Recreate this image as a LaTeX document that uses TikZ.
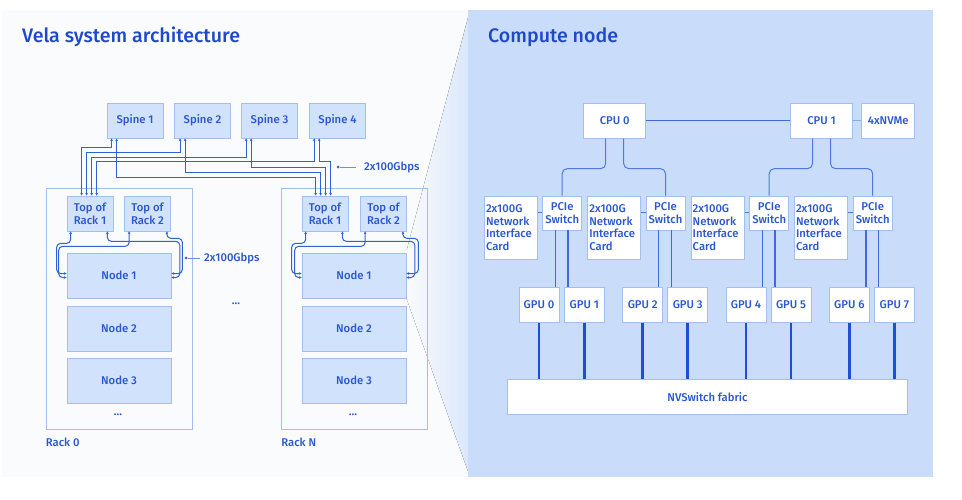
\documentclass[tikz,border=0pt]{standalone}
\usepackage{fontspec}
\setmainfont{Fira Sans}[UprightFont = * Medium, BoldFont = * SemiBold]
\usetikzlibrary{arrows.meta,positioning}

\definecolor{txtblue}{HTML}{2A56CF}
\definecolor{ttlblue}{HTML}{1F49C9}
\definecolor{boxfill}{HTML}{D1E2FC}
\definecolor{boxline}{HTML}{A3BEF0}
\definecolor{linkblue}{HTML}{2F61D7}
\definecolor{panelblue}{HTML}{C9DDFB}
\definecolor{panelgrey}{HTML}{FAFBFC}
\definecolor{fabblue}{HTML}{1E4ED6}

\begin{document}
\begin{tikzpicture}[
    x = 1pt, y = -1pt, % pixel grid, y downwards
    > = {Stealth[length=2.8pt,width=2.8pt]}, % arrow head style
    font = \fontsize{11.3}{12.7}\selectfont,
    text = txtblue
    ]

    \tikzset{
    lbox/.style = {draw = boxline, fill = boxfill, line width = 0.7pt, inner sep = 0pt, align = center},
    wbox/.style = {draw = boxline, fill = white, line width = 0.7pt, inner sep = 0pt, align = center},
    spinebox/.style = {lbox, minimum width = 56pt, minimum height = 35pt},
    torbox/.style = {lbox, minimum width = 46pt, minimum height = 35pt},
    nodebox/.style = {lbox, minimum width = 104pt, minimum height = 45pt},
    rackbox/.style = {draw = boxline, line width = 0.7pt, minimum width = 146pt, minimum height = 241pt},
    nicbox/.style = {wbox, minimum width = 53pt, minimum height = 63pt, align = left, text width = 50pt},
    swbox/.style = {wbox, minimum width = 39pt, minimum height = 34pt},
    gpubox/.style = {wbox, minimum width = 40pt, minimum height = 35pt},
    cpubox/.style = {wbox, minimum width = 62pt, minimum height = 35pt},
    link/.style = {<->, draw = linkblue, line width = 1.25pt},
    torlink/.style = {<->, draw = linkblue, line width = 1pt, rounded corners = 4pt},
    pcie/.style = {draw = linkblue!85, line width = 1pt, rounded corners = 5pt},
    nvlink/.style = {draw = fabblue, line width = 2.6pt},
    dot/.style = {circle, fill = linkblue, inner sep = 0pt, minimum size = 3pt},
    ttl/.style = {text = ttlblue, font = \fontsize{19.6}{22}\selectfont, anchor = west, inner sep = 0pt}
    }

    \useasboundingbox (0,0) rectangle (962,500);
    % panels
    \fill[panelgrey] (2,10) rectangle (468,477);
    \fill[left color = panelgrey, right color = panelblue!70] (406,253) -- (470,10) -- (470,477) -- (406,297) -- cycle;
    \fill[panelblue] (468,10) rectangle (933,477);

    \node[ttl] (t1) at (22,37) {Vela system architecture};
    \node[ttl] (t2) at (488,37) {Compute node};

    % spines
    \node[spinebox] (sp1) at (135,120.5) {Spine 1};
    \node[spinebox] (sp2) at (202.5,120.5) {Spine 2};
    \node[spinebox] (sp3) at (269.5,120.5) {Spine 3};
    \node[spinebox] (sp4) at (337.5,120.5) {Spine 4};

    % racks
    \node[rackbox] (rk0) at (119,308.5) {};
    \node[rackbox] (rkN) at (354.5,308.5) {};
    \node[anchor = north west, inner sep = 0pt] (rk0l) at ([yshift=-8pt]rk0.south west) {Rack 0};
    \node[anchor = north west, inner sep = 0pt] (rkNl) at ([yshift=-8pt]rkN.south west) {Rack N};

    \node[torbox] (t0a) at (90,213.5) {Top of\\Rack 1};
    \node[torbox] (t0b) at (147.5,213.5) {Top of\\Rack 2};
    \node[torbox] (tNa) at (325,213.5) {Top of\\Rack 1};
    \node[torbox] (tNb) at (383.5,213.5) {Top of\\Rack 2};

    \node[nodebox] (n01) at (119,275.5) {Node 1};
    \node[nodebox] (n02) at (119,328.5) {Node 2};
    \node[nodebox] (n03) at (119,380.5) {Node 3};
    \node[nodebox] (nN1) at (354,275.5) {Node 1};
    \node[nodebox] (nN2) at (354,328.5) {Node 2};
    \node[nodebox] (nN3) at (354,380.5) {Node 3};
    \node (m0) at (118,415) {...};
    \node (mN) at (353,415) {...};
    \node (mm) at (236,304) {...};

    % spine to top of rack
    \draw[link] ([xshift=5pt]sp1.south west) -- ++(0,9) -| ([xshift=15pt]t0a.north west);
    \draw[link] ([xshift=6pt]sp2.south west) -- ++(0,14) -| ([xshift=20pt]t0a.north west);
    \draw[link] ([xshift=5pt]sp3.south west) -- ++(0,19) -| ([xshift=25pt]t0a.north west);
    \draw[link] ([xshift=5pt]sp4.south west) -- ++(0,23.5) -| ([xshift=30pt]t0a.north west);
    \draw[link] ([xshift=10pt]sp1.south west) -- ++(0,39) -| ([xshift=14pt]tNa.north west);
    \draw[link] ([xshift=11pt]sp2.south west) -- ++(0,34) -| ([xshift=19pt]tNa.north west);
    \draw[link] ([xshift=10pt]sp3.south west) -- ++(0,29) -| ([xshift=24pt]tNa.north west);
    \draw[link] ([xshift=10pt]sp4.south west) -- ++(0,23.5) -| ([xshift=29pt]tNa.north west);

    % top of rack to node 1
    \foreach \r/\n in {0/n01, N/nN1}{
    \draw[torlink] ([xshift=4pt]t\r a.south west) |- ++(-14,12) |- ([yshift=2pt]\n.west);
    \draw[torlink] ([xshift=5pt]t\r b.south west) |- ++(-70.5,15) |- ([yshift=-2pt]\n.west);
    \draw[torlink] ([xshift=-6pt]t\r a.south east) |- ++(72.5,10) |- ([yshift=-2pt]\n.east);
    \draw[torlink] ([xshift=-4pt]t\r b.south east) |- ++(15.5,7) |- ([yshift=2pt]\n.east);
    }

    % bandwidth labels
    \node[dot] (d1) at (186,258) {};
    \node[anchor = west, inner sep = 0pt] (b1) at (204,258) {2x100Gbps};
    \draw[linkblue!70, line width = 0.6pt] (d1) -- ([xshift=-4pt]b1.west);
    \node[dot] (d2) at (338,167) {};
    \node[anchor = west, inner sep = 0pt] (b2) at (364,167) {2x100Gbps};
    \draw[linkblue!70, line width = 0.6pt] (d2) -- ([xshift=-8pt]b2.west);

    % compute node
    \node[cpubox] (c0) at (614.7,120.8) {CPU 0};
    \node[cpubox] (c1) at (821.5,120.8) {CPU 1};
    \node[wbox, minimum width = 53pt, minimum height = 35pt] (nvme) at (888.3,120.8) {4xNVMe};
    \draw[draw = fabblue!85, line width = 1.4pt] (c0) -- (c1);
    \draw[draw = linkblue!55, line width = 0.9pt] (c1) -- (nvme);

    \foreach \i/\x in {1/511, 2/614.3, 3/717.7, 4/821}{
    \node[nicbox] (nic\i) at (\x,227.7) {2x100G\\Network\\Interface\\Card};
    }
    \foreach \i/\x in {1/562.2, 2/665.5, 3/769.2, 4/872.7}{
    \node[swbox] (sw\i) at (\x,213) {PCIe\\Switch};
    \draw[pcie] (sw\i.west -| nic\i.east) -- (sw\i.west);
    }

    \draw[pcie] ([xshift=-9pt]c0.south) -- ++(0,30) -| (sw1.north);
    \draw[pcie] ([xshift=9pt]c0.south) -- ++(0,30) -| (sw2.north);
    \draw[pcie] ([xshift=-9pt]c1.south) -- ++(0,30) -| (sw3.north);
    \draw[pcie] ([xshift=9pt]c1.south) -- ++(0,30) -| (sw4.north);

    \node[wbox, minimum width = 400pt, minimum height = 35pt] (nvs) at (707.5,396.8) {NVSwitch fabric};

    \foreach \i/\x in {0/539, 1/584.3, 2/642.7, 3/687.7, 4/746, 5/791, 6/849.3, 7/894.3}{
    \node[gpubox] (g\i) at (\x,305) {GPU \i};
    \draw[nvlink] (g\i.south) -- (g\i.south |- nvs.north);
    }

    \foreach \s/\a/\b in {1/0/1, 2/2/3, 3/4/5, 4/6/7}{
    \draw[draw = fabblue!85, line width = 1.2pt] ([xshift=-6.8pt]sw\s.south) -- ([xshift=-6.8pt]sw\s.south |- g\a.north);
    \draw[draw = fabblue!85, line width = 1.2pt] ([xshift=5.8pt]sw\s.south) -- ([xshift=5.8pt]sw\s.south |- g\b.north);
    }
\end{tikzpicture}
\end{document}
